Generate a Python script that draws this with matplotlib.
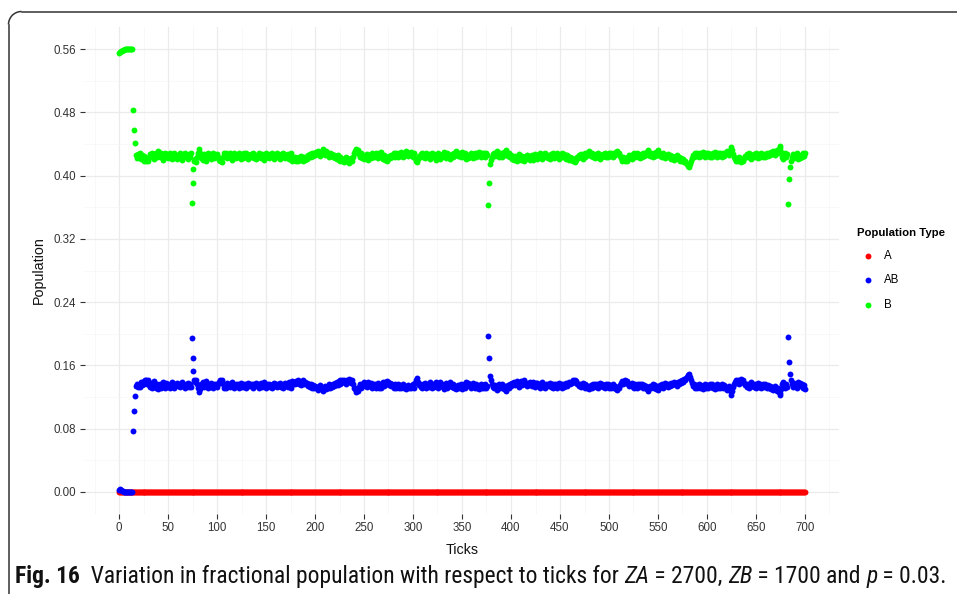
import numpy as np
import matplotlib
matplotlib.use("Agg")
import matplotlib.pyplot as plt
from matplotlib.patches import Arc

# ---------------- data (values in thousandths) ----------------
ticks = np.arange(0, 701)

b_milli = [
555,556,557,558,559,559,560,560,560,560,560,560,560,560,483,458,441,426,422,427,
424,428,421,426,423,419,425,420,418,422,419,424,427,423,428,425,421,426,429,424,
431,426,423,428,424,420,426,429,423,427,422,425,429,424,421,426,428,423,425,421,
426,422,428,424,420,427,425,429,423,426,421,427,424,428,365,391,408,418,421,417,
423,428,433,429,422,426,420,427,424,419,425,429,423,427,421,425,428,422,426,424,
427,423,420,418,421,417,424,428,425,429,422,426,423,428,424,420,425,429,426,422,
426,423,428,424,421,427,425,422,428,424,429,425,421,426,423,427,424,428,422,425,
421,426,423,429,425,422,427,424,420,425,428,423,426,422,427,425,429,424,421,426,
424,428,423,426,421,427,425,429,424,422,426,423,427,421,425,428,422,419,423,420,
424,419,422,418,423,420,425,421,418,423,420,424,421,426,423,427,424,428,425,429,
426,430,427,431,428,425,430,428,433,429,426,431,427,429,424,428,425,427,423,426,
422,425,421,426,420,423,419,422,418,421,417,420,423,418,421,416,419,422,418,424,
428,431,433,429,432,427,424,428,422,425,421,426,423,427,420,424,426,422,428,423,
427,424,429,425,422,428,426,430,424,421,426,420,423,419,424,421,425,422,426,423,
425,428,424,429,426,423,428,425,430,427,424,429,426,431,427,425,429,426,430,427,
424,428,422,419,417,421,425,423,427,429,424,426,422,428,425,423,427,421,425,428,
423,427,424,420,426,422,428,425,421,426,423,427,430,425,422,428,424,426,421,425,
427,424,429,426,431,428,425,429,427,424,430,426,423,428,421,425,422,426,424,428,
425,422,427,429,424,428,426,430,427,423,428,425,429,424,427,429,426,363,391,414,
420,424,427,429,425,428,431,426,424,429,427,423,428,430,426,432,428,425,429,424,
426,421,424,420,425,422,419,424,427,422,420,425,423,419,424,421,426,422,425,420,
423,426,420,424,427,422,425,421,426,423,428,424,421,427,425,429,423,426,422,425,
421,427,424,428,422,426,423,429,425,421,426,424,428,423,427,425,421,426,423,420,
424,420,422,418,421,417,420,424,422,426,423,427,425,421,426,424,428,425,429,427,
431,427,425,429,423,426,422,427,424,428,425,421,426,423,427,425,429,423,426,424,
428,425,429,426,424,428,426,430,431,427,429,425,422,419,423,420,418,422,419,424,
426,422,425,421,427,424,428,423,426,429,424,427,422,426,424,428,425,429,426,430,
432,428,425,429,426,424,428,425,430,427,432,428,425,427,423,428,425,422,426,424,
427,423,426,421,425,423,420,424,422,426,421,423,419,422,420,418,421,417,419,416,
414,412,411,415,418,422,426,424,428,425,429,426,423,428,425,427,430,426,424,428,
425,429,426,423,427,424,428,426,430,427,423,428,425,429,426,424,428,425,429,427,
431,428,426,430,433,436,432,427,423,421,418,422,419,423,420,417,421,418,422,425,
423,427,424,428,425,421,426,423,427,424,429,425,422,427,424,428,426,423,427,424,
426,429,425,428,426,430,427,431,428,426,430,432,429,433,437,435,430,424,421,425,
428,424,427,364,396,411,419,424,427,422,426,423,428,421,425,422,426,424,429,425,
428,
]

ab_milli = [
3,4,2,1,1,0,0,0,0,0,0,0,0,0,77,102,121,134,137,133,
135,133,139,135,137,140,136,141,142,137,141,135,133,138,131,135,140,134,132,136,
130,134,136,132,137,139,134,131,138,133,137,135,132,136,139,135,132,136,135,138,
134,137,133,136,139,134,135,132,137,134,138,133,136,133,195,170,153,141,139,142,
137,132,126,130,137,134,139,133,136,140,135,132,137,133,138,135,132,137,134,136,
133,137,139,141,139,142,136,132,135,132,138,134,136,133,136,139,135,131,134,137,
134,136,132,136,138,133,135,137,133,136,131,135,138,134,137,134,136,132,137,135,
138,134,137,132,135,138,133,136,139,135,132,137,134,137,133,135,132,136,138,134,
136,133,137,134,138,133,135,132,136,138,134,136,133,139,135,132,138,140,137,139,
136,140,138,141,137,139,135,139,141,137,139,136,138,134,137,133,136,132,135,132,
134,131,133,129,132,135,131,132,128,131,134,130,133,131,136,132,135,133,137,134,
138,135,139,135,140,137,141,138,141,139,142,140,137,141,139,143,141,138,141,136,
132,130,127,131,128,133,136,132,137,135,139,134,137,133,139,136,134,138,132,137,
133,136,131,135,138,132,134,131,136,139,134,139,137,140,136,139,135,138,134,137,
135,132,136,131,134,137,132,135,131,133,136,131,134,130,133,135,131,134,131,133,
136,132,138,141,144,139,135,137,133,131,136,134,138,132,135,137,133,139,135,132,
137,133,136,139,134,138,132,135,139,134,137,133,130,135,138,132,136,134,139,135,
133,136,131,134,130,132,135,131,133,136,130,134,137,132,139,135,138,134,136,132,
135,138,133,131,136,132,134,130,133,137,132,135,131,136,133,131,134,197,170,147,
141,136,133,131,135,132,129,134,136,131,133,137,132,130,134,128,132,135,131,136,
134,138,136,139,135,138,140,136,133,137,140,135,137,141,136,138,134,138,135,139,
137,134,139,136,133,138,135,138,134,137,132,136,139,133,135,131,136,134,137,135,
138,133,136,132,137,134,137,131,135,138,134,136,132,137,133,135,138,134,137,139,
136,139,138,141,139,142,140,136,137,134,137,133,135,138,134,136,132,135,131,133,
130,133,135,131,137,134,137,133,136,132,135,138,134,137,133,135,131,137,134,136,
132,135,131,134,136,132,134,130,129,133,131,135,138,140,137,140,141,138,140,136,
134,137,135,138,133,136,132,137,134,131,136,133,137,134,136,132,135,131,134,130,
128,132,134,131,134,136,132,135,130,133,129,132,135,133,137,132,135,138,134,136,
133,137,134,138,135,137,139,136,138,134,139,137,140,138,140,142,139,143,141,144,
146,148,149,145,142,138,134,136,132,135,131,134,137,132,135,133,130,134,136,132,
135,131,134,137,133,136,132,134,130,133,137,132,135,131,134,136,132,135,131,133,
129,132,134,130,127,123,128,133,137,139,142,138,141,137,140,143,139,141,138,135,
137,133,136,132,135,139,134,137,133,136,131,135,138,133,136,132,134,137,133,136,
134,131,135,132,134,130,133,129,132,134,130,128,131,127,123,125,130,136,139,135,
132,136,133,196,164,149,141,136,133,138,134,137,132,139,135,138,134,136,131,135,
130,
]

a_milli = [0] * 701

series_names = ["A", "AB", "B"]
series_colors = ["#FF0000", "#0000FF", "#00FF00"]

x_breaks = list(range(0, 701, 50))
y_breaks = [0.00, 0.08, 0.16, 0.24, 0.32, 0.40, 0.48, 0.56]

caption_parts = [
    ("Fig. 16", "normal", "bold"),
    ("  Variation in fractional population with respect to ticks for ", "normal", "normal"),
    ("ZA", "italic", "normal"),
    (" = 2700, ", "normal", "normal"),
    ("ZB", "italic", "normal"),
    (" = 1700 and ", "normal", "normal"),
    ("p", "italic", "normal"),
    (" = 0.03.", "normal", "normal"),
]

A = np.array(a_milli) / 1000.0
AB = np.array(ab_milli) / 1000.0
B = np.array(b_milli) / 1000.0
values = [A, AB, B]

# ---------------- figure ----------------
W, H = 957, 594
fig = plt.figure(figsize=(W / 100, H / 100), dpi=100)
plt.rcParams["font.family"] = ["Liberation Sans", "DejaVu Sans"]

# panel geometry (pixels)
x0_px, x700_px = 119.0, 805.0
y0_px, y56_px = 492.0, 49.0
ppx = (x700_px - x0_px) / 700.0
ppy = (y0_px - y56_px) / 0.56
xlim = (-35, 735)
ylim = (-0.028, 0.588)
left = x0_px + xlim[0] * ppx
right = x0_px + xlim[1] * ppx
bottom = y0_px - ylim[0] * ppy
top = y0_px - ylim[1] * ppy
ax = fig.add_axes([left / W, 1 - bottom / H, (right - left) / W, (bottom - top) / H])
ax.set_xlim(*xlim)
ax.set_ylim(*ylim)

for name, col, v in zip(series_names, series_colors, values):
    ax.scatter(ticks, v, s=18, color=col, linewidths=0, label=name, zorder=3)

ax.set_xticks(x_breaks)
ax.set_xticks([-25] + [b + 25 for b in x_breaks], minor=True)
ax.set_yticks(y_breaks)
ax.set_yticks([y + 0.04 for y in y_breaks[:-1]], minor=True)
ax.set_yticklabels([f"{y:.2f}" for y in y_breaks])
ax.grid(which="major", color="#EBEBEB", linewidth=0.9, zorder=0)
ax.grid(which="minor", color="#F5F5F5", linewidth=0.5, zorder=0)
ax.set_axisbelow(True)
for sp in ax.spines.values():
    sp.set_visible(False)
ax.tick_params(which="major", length=3.5, width=0.8, color="#333333",
               labelsize=8.3, labelcolor="#333333", pad=2.5)
ax.tick_params(which="minor", length=0)
ax.set_xlabel("Ticks", fontsize=10.3, labelpad=6, color="#111111")
ax.set_ylabel("Population", fontsize=10.3, labelpad=6, color="#111111")

leg = ax.legend(title="Population Type", loc="upper left",
                bbox_to_anchor=(848 / W, 1 - 219 / H), bbox_transform=fig.transFigure,
                frameon=False, fontsize=8.3, title_fontsize=8.2,
                markerscale=1.0, handletextpad=0.5, labelspacing=1.05,
                borderpad=0.3, handlelength=1.8, alignment="left")
leg.get_title().set_fontweight("bold")

# ---------------- overlay for frame & caption ----------------
ov = fig.add_axes([0, 0, 1, 1], zorder=-1)
ov.set_xlim(0, W)
ov.set_ylim(H, 0)
ov.axis("off")
r = 13
fx, fy = 8.5, 11.5
ov.plot([fx, fx], [fy + r, H + 5], color="#333333", lw=1.1)
ov.plot([fx + r, W + 5], [fy, fy], color="#333333", lw=1.1)
ov.add_patch(Arc((fx + r, fy + r), 2 * r, 2 * r, theta1=180, theta2=270,
                 color="#333333", lw=1.1))

cap_family = ["Liberation Sans Narrow", "Roboto Condensed", "Roboto", "DejaVu Sans"]
fig.canvas.draw()
renderer = fig.canvas.get_renderer()


def place_caption(fs):
    texts = []
    x = 15.0
    for s, style, weight in caption_parts:
        t = ov.text(x, 583, s, fontsize=fs, fontstyle=style, fontweight=weight,
                    family=cap_family, color="#111111", va="baseline", ha="left")
        bb = t.get_window_extent(renderer)
        x += bb.width
        texts.append(t)
    return texts, x


texts, xend = place_caption(13.0)
scale = (945 - 15) / (xend - 15)
for t in texts:
    t.remove()
place_caption(13.0 * scale)

fig.savefig("out.png", dpi=100)
